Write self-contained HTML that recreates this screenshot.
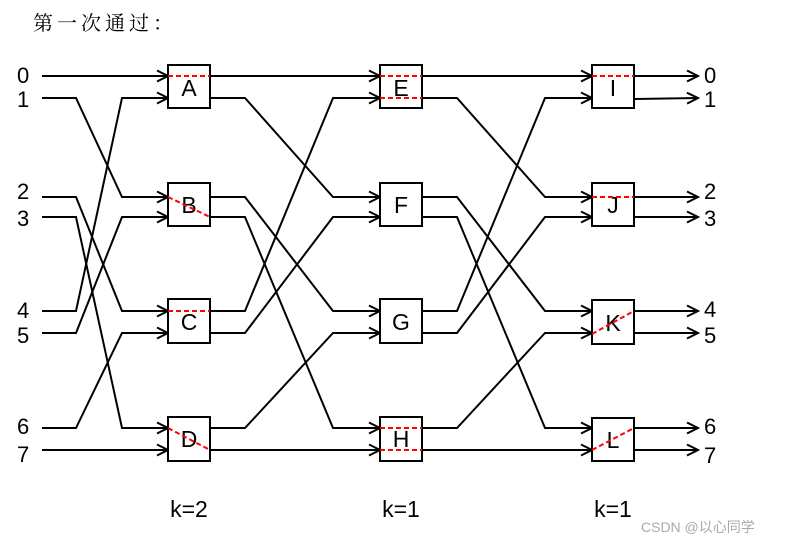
<!DOCTYPE html>
<html><head><meta charset="utf-8"><style>
html,body{margin:0;padding:0;background:#fff;}
svg{display:block;}
</style></head><body>
<svg width="793" height="544" viewBox="0 0 793 544" xmlns="http://www.w3.org/2000/svg">
<defs>
<marker id="ar" markerWidth="14" markerHeight="14" refX="12" refY="7" orient="auto" markerUnits="userSpaceOnUse">
<path d="M1,1.5 L12,7 L1,12.5" fill="none" stroke="#000" stroke-width="2"/>
</marker>
</defs>
<text x="33" y="30" font-family="'Noto Serif CJK SC','Liberation Serif',serif" font-size="20" letter-spacing="4" fill="#000">第一次通过：</text>
<g fill="none" stroke="#000" stroke-width="2" marker-end="url(#ar)">
<path d="M42,76 L76,76 L122,76 L168,76"/>
<path d="M42,98 L76,98 L122,197 L168,197"/>
<path d="M42,197 L76,197 L122,311 L168,311"/>
<path d="M42,217 L76,217 L122,428 L168,428"/>
<path d="M42,311 L76,311 L122,98 L168,98"/>
<path d="M42,333 L76,333 L122,217 L168,217"/>
<path d="M42,428 L76,428 L122,333 L168,333"/>
<path d="M42,450 L76,450 L122,450 L168,450"/>
<path d="M210,76 L245,76 L333,76 L380,76"/>
<path d="M210,98 L245,98 L333,197 L380,197"/>
<path d="M210,197 L245,197 L333,311 L380,311"/>
<path d="M210,217 L245,217 L333,428 L380,428"/>
<path d="M210,311 L245,311 L333,98 L380,98"/>
<path d="M210,333 L245,333 L333,217 L380,217"/>
<path d="M210,428 L245,428 L333,333 L380,333"/>
<path d="M210,450 L245,450 L333,450 L380,450"/>
<path d="M422,76 L457,76 L545,76 L592,76"/>
<path d="M422,98 L457,98 L545,197 L592,197"/>
<path d="M422,197 L457,197 L545,311 L592,311"/>
<path d="M422,217 L457,217 L545,428 L592,428"/>
<path d="M422,311 L457,311 L545,98 L592,98"/>
<path d="M422,333 L457,333 L545,217 L592,217"/>
<path d="M422,428 L457,428 L545,333 L592,333"/>
<path d="M422,450 L457,450 L545,450 L592,450"/>
<path d="M634,76 L698,76"/>
<path d="M634,99 L698,98"/>
<path d="M634,197 L698,197"/>
<path d="M634,217 L698,217"/>
<path d="M634,311 L698,311"/>
<path d="M634,333 L698,333"/>
<path d="M634,428 L698,428"/>
<path d="M634,450 L698,450"/>
</g>
<g fill="#fff" stroke="#000" stroke-width="2">
<rect x="168" y="65" width="42" height="43"/>
<rect x="168" y="183" width="42" height="43"/>
<rect x="168" y="299" width="42" height="44"/>
<rect x="168" y="417" width="42" height="44"/>
<rect x="380" y="65" width="42" height="43"/>
<rect x="380" y="183" width="42" height="43"/>
<rect x="380" y="299" width="42" height="44"/>
<rect x="380" y="417" width="42" height="44"/>
<rect x="592" y="65" width="42" height="43"/>
<rect x="592" y="183" width="42" height="43"/>
<rect x="592" y="300" width="42" height="44"/>
<rect x="592" y="418" width="42" height="43"/>
</g>
<g font-family="'Liberation Sans',Arial,sans-serif" font-size="23" fill="#000" text-anchor="middle">
<text x="189" y="96">A</text>
<text x="189" y="213">B</text>
<text x="189" y="330">C</text>
<text x="189" y="447">D</text>
<text x="401" y="96">E</text>
<text x="401" y="213">F</text>
<text x="401" y="330">G</text>
<text x="401" y="447">H</text>
<text x="613" y="96">I</text>
<text x="613" y="213">J</text>
<text x="613" y="331">K</text>
<text x="613" y="448">L</text>
</g>
<g fill="none" stroke="#f00" stroke-width="2" stroke-dasharray="5,3">
<path d="M168,76 L210,76"/>
<path d="M168,197 L210,217"/>
<path d="M168,311 L210,311"/>
<path d="M168,428 L210,450"/>
<path d="M380,76 L422,76"/>
<path d="M380,98 L422,98"/>
<path d="M380,428 L422,428"/>
<path d="M380,450 L422,450"/>
<path d="M592,76 L634,76"/>
<path d="M592,197 L634,197"/>
<path d="M592,334 L634,311"/>
<path d="M592,450 L634,428"/>
</g>
<g font-family="'Liberation Sans',Arial,sans-serif" font-size="22" fill="#000">
<text x="17" y="83">0</text>
<text x="17" y="107">1</text>
<text x="17" y="199">2</text>
<text x="17" y="226">3</text>
<text x="17" y="318">4</text>
<text x="17" y="343">5</text>
<text x="17" y="434">6</text>
<text x="17" y="462">7</text>
<text x="704" y="83">0</text>
<text x="704" y="107">1</text>
<text x="704" y="199">2</text>
<text x="704" y="226">3</text>
<text x="704" y="317">4</text>
<text x="704" y="343">5</text>
<text x="704" y="434">6</text>
<text x="704" y="463">7</text>
</g>
<g font-family="'Liberation Sans',Arial,sans-serif" font-size="23" fill="#000" text-anchor="middle">
<text x="189" y="517">k=2</text>
<text x="401" y="517">k=1</text>
<text x="613" y="517">k=1</text>
</g>
<text x="641" y="532" font-family="'Liberation Sans','Noto Sans CJK SC',sans-serif" font-size="14" fill="#aaa">CSDN @以心同学</text>
</svg>
</body></html>
